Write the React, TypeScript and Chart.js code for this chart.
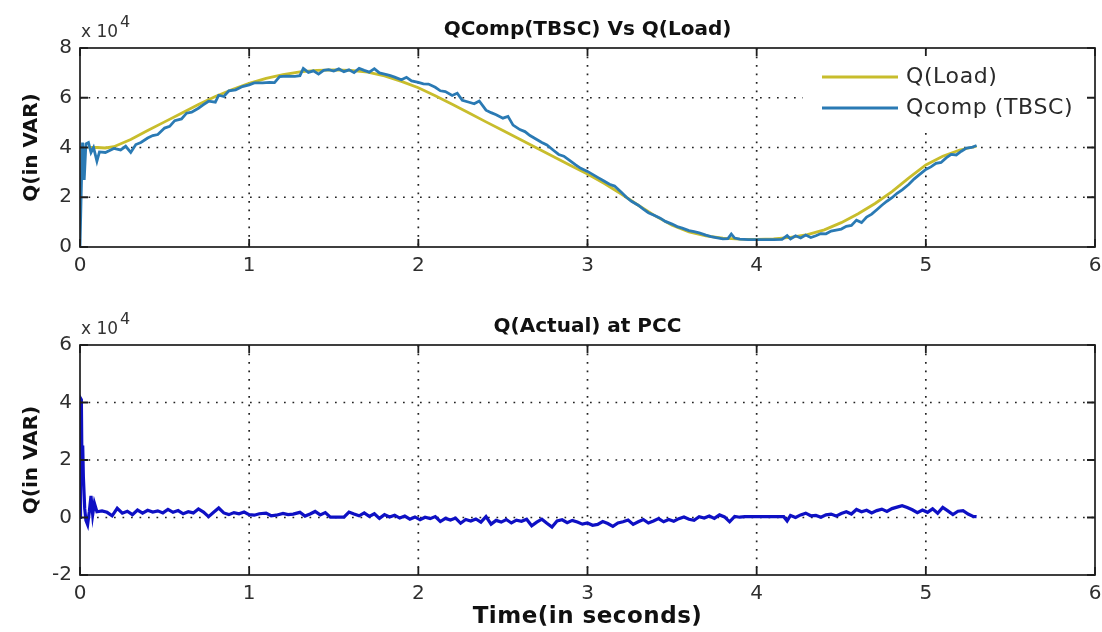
import React, { useEffect, useRef } from "react";
import { Chart, registerables } from "chart.js";

Chart.register(...registerables);

const FONT = "'DejaVu Sans', sans-serif";

// ---------- Top panel: QComp(TBSC) Vs Q(Load) ----------
const topTitle = "QComp(TBSC) Vs Q(Load)";
const bottomTitle = "Q(Actual) at PCC";
const yAxisLabel = "Q(in VAR)";
const xAxisLabel = "Time(in seconds)";
const loadLabel = "Q(Load)";
const compLabel = "Qcomp (TBSC)";

const xTicks = [0, 1, 2, 3, 4, 5, 6];
const topYTicks = [0, 20000, 40000, 60000, 80000];
const bottomYTicks = [-20000, 0, 20000, 40000, 60000];

const loadTime = [
  0.05, 0.1, 0.15, 0.2, 0.3, 0.4, 0.5, 0.6, 0.7, 0.8, 0.9, 1.0, 1.1, 1.2, 1.3, 1.4, 1.5,
  1.6, 1.7, 1.8, 1.9, 2.0, 2.1, 2.2, 2.3, 2.4, 2.5, 2.6, 2.7, 2.8, 2.9, 3.0, 3.1, 3.2,
  3.3, 3.4, 3.5, 3.6, 3.7, 3.8, 3.9, 4.0, 4.1, 4.2, 4.3, 4.4, 4.5, 4.6, 4.7, 4.8, 4.9,
  5.0, 5.1, 5.2, 5.3,
];
const loadValues = [
  40000, 40000, 39800, 40300, 43200, 46800, 50300, 53800, 57300, 60500, 63300, 65800,
  67800, 69300, 70400, 71000, 71200, 71000, 70300, 68800, 66600, 64000, 60800, 57400,
  53900, 50300, 46800, 43300, 39800, 36300, 32800, 29300, 25500, 21300, 16800, 12500,
  8800, 6100, 4500, 3600, 3200, 3100, 3300, 3900, 5000, 6900, 9800, 13400, 17500,
  22300, 27800, 33000, 36500, 39000, 40500,
];

const compTime = [
  0, 0.01, 0.015, 0.025, 0.035, 0.05, 0.065, 0.08, 0.1, 0.115, 0.15, 0.2, 0.24, 0.27,
  0.3, 0.33, 0.36, 0.4, 0.43, 0.46, 0.5, 0.53, 0.56, 0.6, 0.63, 0.66, 0.7, 0.73, 0.76,
  0.8, 0.82, 0.85, 0.88, 0.92, 0.96, 1.0, 1.03, 1.08, 1.12, 1.15, 1.18, 1.22, 1.27, 1.3,
  1.32, 1.35, 1.38, 1.41, 1.44, 1.47, 1.5, 1.53, 1.56, 1.59, 1.62, 1.65, 1.68, 1.71,
  1.74, 1.77, 1.8, 1.83, 1.86, 1.9, 1.93, 1.96, 2.0, 2.03, 2.06, 2.1, 2.13, 2.16, 2.2,
  2.23, 2.26, 2.3, 2.33, 2.36, 2.4, 2.43, 2.46, 2.5, 2.53, 2.56, 2.6, 2.63, 2.66, 2.7,
  2.73, 2.76, 2.8, 2.83, 2.86, 2.9, 2.93, 2.96, 3.0, 3.03, 3.06, 3.1, 3.13, 3.16, 3.2,
  3.23, 3.26, 3.3, 3.33, 3.36, 3.4, 3.43, 3.46, 3.5, 3.53, 3.56, 3.6, 3.63, 3.66, 3.7,
  3.73, 3.76, 3.8, 3.83, 3.85, 3.87, 3.9, 3.95, 4.0, 4.05, 4.1, 4.15, 4.18, 4.2, 4.23,
  4.26, 4.29, 4.32, 4.35, 4.38, 4.41, 4.44, 4.47, 4.5, 4.53, 4.56, 4.59, 4.62, 4.65,
  4.68, 4.71, 4.74, 4.77, 4.8, 4.83, 4.86, 4.9, 4.93, 4.96, 5.0, 5.03, 5.06, 5.09, 5.12,
  5.15, 5.18, 5.21, 5.24, 5.27, 5.3,
];
const compValues = [
  0, 30000, 42000, 27000, 41500, 42000, 38000, 40000, 34500, 38200, 38000, 39600, 39000,
  40500, 38000, 41200, 42000, 43800, 44800, 45200, 47800, 48500, 50800, 51500, 53800,
  54200, 55800, 57200, 58600, 58200, 61000, 60500, 62800, 63200, 64500, 65200, 66000,
  66000, 66200, 66100, 68500, 68700, 68600, 68900, 71800, 70200, 70800, 69500, 71000,
  71300, 70700, 71600, 70500, 71200, 70100, 71800, 71000, 70300, 71700, 70000, 69500,
  69000, 68300, 67200, 68200, 66800, 66200, 65600, 65500, 64200, 62800, 62500, 60900,
  61800, 59000, 58200, 57600, 58700, 55000, 54000, 53200, 51800, 52500, 49000, 47200,
  46400, 44800, 43200, 42000, 41000, 38800, 37200, 36500, 34500, 33000, 31600, 30400,
  29200, 28000, 26400, 25200, 24500, 22000, 20000, 18400, 16800, 15200, 13800, 12600,
  11600, 10300, 9200, 8200, 7600, 6600, 6200, 5700, 4800, 4200, 3800, 3300, 3400, 5200,
  3600, 3200, 3000, 3000, 3000, 3000, 3100, 4600, 3200, 4500, 3600, 4800, 3800, 4500,
  5400, 5300, 6400, 6800, 7200, 8300, 8700, 10800, 9800, 12000, 13200, 15000, 16800,
  18400, 19800, 21600, 23000, 25200, 27300, 29000, 31200, 32200, 33600, 34000, 35800,
  37200, 37000, 38500, 39800, 40000, 40800,
];

// ---------- Bottom panel: Q(Actual) at PCC ----------
const actualTime = [
  0, 0.003, 0.008, 0.012, 0.016, 0.02, 0.028, 0.035, 0.045, 0.055, 0.065, 0.075, 0.085,
  0.1, 0.13, 0.16, 0.19, 0.22, 0.25, 0.28, 0.31, 0.34, 0.37, 0.4, 0.43, 0.46, 0.49,
  0.52, 0.55, 0.58, 0.61, 0.64, 0.67, 0.7, 0.73, 0.76, 0.79, 0.82, 0.85, 0.88, 0.91,
  0.94, 0.97, 1.0, 1.03, 1.06, 1.1, 1.13, 1.16, 1.2, 1.23, 1.26, 1.3, 1.33, 1.36, 1.39,
  1.42, 1.45, 1.48, 1.52, 1.56, 1.59, 1.62, 1.65, 1.68, 1.71, 1.74, 1.77, 1.8, 1.83,
  1.86, 1.89, 1.92, 1.95, 1.98, 2.01, 2.04, 2.07, 2.1, 2.13, 2.16, 2.19, 2.22, 2.25,
  2.28, 2.31, 2.34, 2.37, 2.4, 2.43, 2.46, 2.49, 2.52, 2.55, 2.58, 2.61, 2.64, 2.67,
  2.7, 2.73, 2.76, 2.79, 2.82, 2.85, 2.88, 2.91, 2.94, 2.97, 3.0, 3.03, 3.06, 3.09,
  3.12, 3.15, 3.18, 3.21, 3.24, 3.27, 3.3, 3.33, 3.36, 3.39, 3.42, 3.45, 3.48, 3.51,
  3.54, 3.57, 3.6, 3.63, 3.66, 3.69, 3.72, 3.75, 3.78, 3.81, 3.84, 3.87, 3.9, 3.93, 4.0,
  4.1, 4.16, 4.18, 4.2, 4.23, 4.26, 4.29, 4.32, 4.35, 4.38, 4.41, 4.44, 4.47, 4.5, 4.53,
  4.56, 4.59, 4.62, 4.65, 4.68, 4.71, 4.74, 4.77, 4.8, 4.83, 4.86, 4.89, 4.92, 4.95,
  4.98, 5.01, 5.04, 5.07, 5.1, 5.13, 5.16, 5.19, 5.22, 5.25, 5.28, 5.3,
];
const actualValues = [
  0, 41500, 41000, 15000, 25000, 14000, 3000, -1000, -2500, 2000, 7500, 1000, 5000,
  2000, 2300, 1800, 600, 3200, 1500, 2200, 1000, 2600, 1500, 2500, 1900, 2300, 1600,
  2800, 1800, 2400, 1300, 2000, 1600, 3000, 1900, 300, 1800, 3300, 1600, 1000, 1700,
  1300, 1900, 1000, 800, 1300, 1500, 600, 800, 1400, 1000, 1200, 1800, 500, 1200, 2100,
  900, 1700, 100, 100, 100, 1900, 1200, 600, 1600, 400, 1300, -300, 1000, 200,
  800, -200, 500, -600, 200, -800, 100, -400, 300, -1400, -300, -900, -200, -2000,
  -700, -1200, -500, -1600, 300, -2300, -1000, -1600, -700, -1900, -900, -1300, -600, -2900,
  -1600, -600, -2000, -3300, -1200, -800, -1800, -1000, -1600, -2300, -1900, -2700, -2400, -1400,
  -2100, -3100, -1900, -1500, -900, -2400, -1500, -700, -1900, -1200, -400, -1500, -700, -1300,
  -400, 200, -600, -1000, 300, -200, 500, -300, 900, 200, -1500, 400, 100, 300, 300,
  300, 300, -1200, 700, 0, 900, 1500, 600, 700, 100, 900, 1200, 500, 1400, 2000,
  1200, 2800, 2000, 2500, 1600, 2400, 2900, 2100, 3100, 3600, 4100, 3500, 2700, 1700,
  2600, 1800, 3000, 1500, 3500, 2300, 1000, 2200, 2400, 1200, 400, 300,
];

const COLOR_LOAD = "#c8bd2c";
const COLOR_COMP = "#2a7ab4";
const COLOR_ACTUAL = "#0e10c4";
const INK = "#1e1e1e";

const toPoints = (ts: number[], vs: number[]) => ts.map((t, i) => ({ x: t, y: vs[i] }));

const matlabPlugin = {
  id: "matlabAxes",
  beforeDatasetsDraw(chart: any, _args: any, opts: any) {
    const { ctx, chartArea: a, scales } = chart;
    const x = scales.x;
    const y = scales.y;
    ctx.save();
    ctx.strokeStyle = "#222";
    ctx.lineWidth = 1.7;
    ctx.setLineDash([1.7, 6.8]);
    ctx.beginPath();
    x.ticks.forEach((t: any) => {
      const px = x.getPixelForValue(t.value);
      if (px <= a.left + 2 || px >= a.right - 2) return;
      ctx.moveTo(px, a.top);
      ctx.lineTo(px, a.bottom);
    });
    y.ticks.forEach((t: any) => {
      const py = y.getPixelForValue(t.value);
      if (py <= a.top + 2 || py >= a.bottom - 2) return;
      ctx.moveTo(a.left, py);
      ctx.lineTo(a.right, py);
    });
    ctx.stroke();
    ctx.restore();
  },
  afterDatasetsDraw(chart: any, _args: any, opts: any) {
    const { ctx, chartArea: a, scales } = chart;
    const x = scales.x;
    const y = scales.y;
    ctx.save();

    // legend
    if (opts.legend) {
      ctx.fillStyle = "#ffffff";
      ctx.fillRect(803, 56, 290, 72);
      const rows = [77, 108];
      chart.data.datasets.forEach((ds: any, i: number) => {
        const ly = rows[i];
        ctx.strokeStyle = ds.borderColor;
        ctx.lineWidth = 3;
        ctx.setLineDash([]);
        ctx.beginPath();
        ctx.moveTo(822, ly);
        ctx.lineTo(898, ly);
        ctx.stroke();
        ctx.fillStyle = "#2a2a2a";
        ctx.font = `22px ${FONT}`;
        (ctx as any).letterSpacing = "0.6px";
        ctx.textAlign = "left";
        ctx.textBaseline = "middle";
        ctx.fillText(ds.label, 906, ly);
        (ctx as any).letterSpacing = "0px";
      });
    }

    // box
    ctx.setLineDash([]);
    ctx.strokeStyle = INK;
    ctx.lineWidth = 1.7;
    ctx.strokeRect(a.left, a.top, a.right - a.left, a.bottom - a.top);

    // inward tick marks on all four sides
    const TL = 8;
    ctx.lineWidth = 1.8;
    ctx.beginPath();
    x.ticks.forEach((t: any) => {
      const px = x.getPixelForValue(t.value);
      ctx.moveTo(px, a.bottom);
      ctx.lineTo(px, a.bottom - TL);
      ctx.moveTo(px, a.top);
      ctx.lineTo(px, a.top + TL);
    });
    y.ticks.forEach((t: any) => {
      const py = y.getPixelForValue(t.value);
      ctx.moveTo(a.left, py);
      ctx.lineTo(a.left + TL, py);
      ctx.moveTo(a.right, py);
      ctx.lineTo(a.right - TL, py);
    });
    ctx.stroke();

    // title
    ctx.fillStyle = "#111";
    ctx.font = `bold 20px ${FONT}`;
    ctx.textAlign = "center";
    ctx.textBaseline = "middle";
    ctx.fillText(opts.title, (a.left + a.right) / 2, a.top - 18);

    // exponent label
    ctx.fillStyle = "#333";
    ctx.textAlign = "left";
    ctx.textBaseline = "alphabetic";
    ctx.font = `17px ${FONT}`;
    ctx.fillText("x 10", a.left + 1, a.top - 11);
    const w = ctx.measureText("x 10").width;
    ctx.font = `16px ${FONT}`;
    ctx.fillText(opts.exponent, a.left + 3 + w, a.top - 21);

    // y label
    ctx.save();
    ctx.translate(32, (a.top + a.bottom) / 2);
    ctx.rotate(-Math.PI / 2);
    ctx.fillStyle = "#111";
    ctx.font = `bold 20px ${FONT}`;
    ctx.textAlign = "center";
    ctx.textBaseline = "middle";
    ctx.fillText(opts.yLabel, 0, 0);
    ctx.restore();

    // x label
    if (opts.xLabel) {
      ctx.fillStyle = "#111";
      ctx.font = `bold 23px ${FONT}`;
      (ctx as any).letterSpacing = "0.5px";
      ctx.textAlign = "center";
      ctx.textBaseline = "middle";
      ctx.fillText(opts.xLabel, (a.left + a.right) / 2, a.bottom + 42);
      (ctx as any).letterSpacing = "0px";
    }
    ctx.restore();
  },
};

function makeOptions(
  yTicks: number[],
  padTop: number,
  xAxisHeight: number,
  pluginOpts: any
): any {
  return {
    responsive: false,
    animation: false,
    events: [],
    layout: { padding: { left: 0, right: 7, top: padTop, bottom: 0 } },
    plugins: {
      legend: { display: false },
      title: { display: false },
      tooltip: { enabled: false },
      matlabAxes: pluginOpts,
    },
    elements: { point: { radius: 0 }, line: { tension: 0 } },
    scales: {
      x: {
        type: "linear",
        min: xTicks[0],
        max: xTicks[xTicks.length - 1],
        afterBuildTicks: (s: any) => {
          s.ticks = xTicks.map((v) => ({ value: v }));
        },
        afterFit: (s: any) => {
          s.height = xAxisHeight;
          s.paddingLeft = 0;
          s.paddingRight = 0;
        },
        grid: { display: false, drawTicks: false },
        border: { display: false },
        ticks: {
          padding: 7,
          color: "#2e2e2e",
          font: { family: FONT, size: 20 },
          maxRotation: 0,
          autoSkip: false,
        },
      },
      y: {
        type: "linear",
        min: yTicks[0],
        max: yTicks[yTicks.length - 1],
        afterBuildTicks: (s: any) => {
          s.ticks = yTicks.map((v) => ({ value: v }));
        },
        afterFit: (s: any) => {
          s.width = 80;
          s.paddingTop = 0;
          s.paddingBottom = 0;
        },
        grid: { display: false, drawTicks: false },
        border: { display: false },
        ticks: {
          padding: 8,
          color: "#2e2e2e",
          font: { family: FONT, size: 20 },
          autoSkip: false,
          callback: (v: any) => String(Math.round(Number(v) / 10000)),
        },
      },
    },
  };
}

export default function App() {
  const topRef = useRef<HTMLCanvasElement | null>(null);
  const bottomRef = useRef<HTMLCanvasElement | null>(null);

  useEffect(() => {
    const top = new Chart(topRef.current as HTMLCanvasElement, {
      type: "line",
      data: {
        datasets: [
          {
            label: loadLabel,
            data: toPoints(loadTime, loadValues),
            borderColor: COLOR_LOAD,
            borderWidth: 2.8,
            order: 1,
          },
          {
            label: compLabel,
            data: toPoints(compTime, compValues),
            borderColor: COLOR_COMP,
            borderWidth: 2.8,
            order: 0,
          },
        ],
      },
      options: makeOptions(topYTicks, 48, 53, {
        title: topTitle,
        yLabel: yAxisLabel,
        exponent: "4",
        legend: true,
      }),
      plugins: [matlabPlugin],
    } as any);

    const bottom = new Chart(bottomRef.current as HTMLCanvasElement, {
      type: "line",
      data: {
        datasets: [
          {
            label: bottomTitle,
            data: toPoints(actualTime, actualValues),
            borderColor: COLOR_ACTUAL,
            borderWidth: 3.2,
          },
        ],
      },
      options: makeOptions(bottomYTicks, 45, 57, {
        title: bottomTitle,
        yLabel: yAxisLabel,
        xLabel: xAxisLabel,
        exponent: "4",
        legend: false,
      }),
      plugins: [matlabPlugin],
    } as any);

    return () => {
      top.destroy();
      bottom.destroy();
    };
  }, []);

  return (
    <div
      style={{
        position: "absolute",
        left: 0,
        top: 0,
        width: 1102,
        height: 632,
        background: "#ffffff",
        overflow: "hidden",
      }}
    >
      <canvas
        ref={topRef}
        width={1102}
        height={300}
        style={{ position: "absolute", left: 0, top: 0, width: 1102, height: 300 }}
      />
      <canvas
        ref={bottomRef}
        width={1102}
        height={332}
        style={{ position: "absolute", left: 0, top: 300, width: 1102, height: 332 }}
      />
    </div>
  );
}
